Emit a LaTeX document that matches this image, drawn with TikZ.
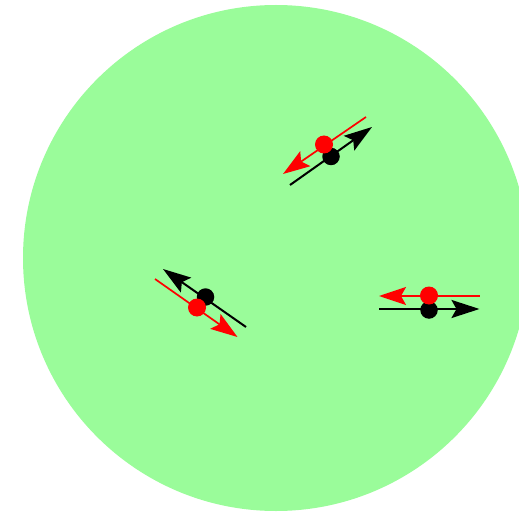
\documentclass[tikz,border=0pt]{standalone}
\usetikzlibrary{arrows.meta}
\definecolor{bg}{RGB}{154,252,154}
\begin{document}
\begin{tikzpicture}[x=1pt,y=-1pt,
  redline/.style={draw=red, line width=1.7pt, -{Stealth[length=27pt,width=18pt,inset=5pt]}},
  blackline/.style={draw=black, line width=2pt, -{Stealth[length=28pt,width=18pt,inset=5pt]}},
  reddot/.style={circle, fill=red, minimum size=18pt, inner sep=0pt},
  blackdot/.style={circle, fill=black, minimum size=17.5pt, inner sep=0pt}]
\useasboundingbox (0,0) rectangle (519,513);
\clip (0,0) rectangle (519,513);
\fill[bg] (276,258) circle (253pt);
% top pair
\coordinate (tbs) at (290,185);
\coordinate (tbe) at (372,127);
\coordinate (trs) at (366,117);
\coordinate (tre) at (283,174);
% left pair
\coordinate (lbs) at (246,327);
\coordinate (lbe) at (163,269);
\coordinate (lrs) at (155,279);
\coordinate (lre) at (237.5,337);
% right pair
\coordinate (rbs) at (379,309);
\coordinate (rbe) at (479.5,309);
\coordinate (rrs) at (479.5,296);
\coordinate (rre) at (379,296);
% black
\draw[blackline] (tbs) -- (tbe);
\draw[blackline] (lbs) -- (lbe);
\draw[blackline] (rbs) -- (rbe);
\node[blackdot] (tb) at (331,156.5) {};
\node[blackdot] (lb) at (205.5,297) {};
\node[blackdot] (rb) at (429,310) {};
% red
\draw[redline] (trs) -- (tre);
\draw[redline] (lrs) -- (lre);
\draw[redline] (rrs) -- (rre);
\node[reddot] (tr) at (324,144.5) {};
\node[reddot] (lr) at (197,307.5) {};
\node[reddot] (rr) at (429,295.5) {};
\end{tikzpicture}
\end{document}
